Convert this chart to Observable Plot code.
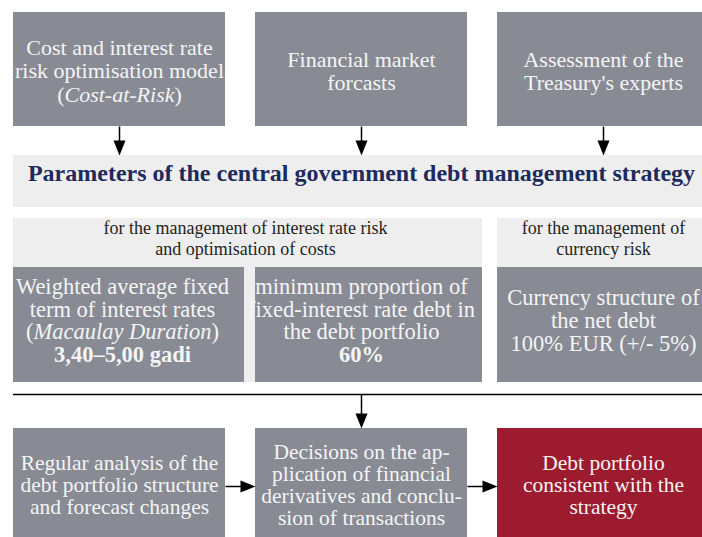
<!DOCTYPE html>
<html><head><meta charset="utf-8">
<script src="https://cdn.jsdelivr.net/npm/d3@7"></script>
<script src="https://cdn.jsdelivr.net/npm/@observablehq/plot@0.6"></script>
<style>html,body{margin:0;padding:0;background:#fff;} svg{display:block;}</style>
</head><body><div id="chart"></div>
<script>
// ---- content ----
const topBoxTexts = [
  ["Cost and interest rate", "risk optimisation model", "(_Cost-at-Risk_)"],
  ["Financial market", "forcasts"],
  ["Assessment of the", "Treasury's experts"]
];
const strategyTitle = "Parameters of the central government debt management strategy";
const groupLabels = [
  ["for the management of interest rate risk", "and optimisation of costs"],
  ["for the management of", "currency risk"]
];
const parameterTexts = [
  ["Weighted average fixed", "term of interest rates", "(_Macaulay Duration_)", "**3,40–5,00 gadi**"],
  ["minimum proportion of", "fixed-interest rate debt in", "the debt portfolio", "**60%**"],
  ["Currency structure of", "the net debt", "100% EUR (+/- 5%)"]
];
const processTexts = [
  ["Regular analysis of the", "debt portfolio structure", "and forecast changes"],
  ["Decisions on the ap-", "plication of financial", "derivatives and conclu-", "sion of transactions"],
  ["Debt portfolio", "consistent with the", "strategy"]
];

// ---- layout ----
const W = 702, H = 537;
const GREY = "#888b94", RED = "#9d1b2e", LIGHT = "#eeeeee", NAVY = "#1e2a5e", BOXTEXT = "#f4f4f4", DARK = "#231f20";
const colX = [13, 255, 497], colW = 212;
const colC = colX.map(x => x + colW / 2);
const topRow = [12, 126], band = [155, 207], groupRow = [218, 382], labelRow = [218, 267], paramRow = [267, 382];
const ruleY = 394, bottomRow = [428, 545];
const groupSpans = [[13, 482], [497, 709]];
const paramSpans = [[13, 244], [255, 482], [497, 709]];

const rects = [];
colX.forEach(x => rects.push({x1: x, x2: x + colW, y1: topRow[0], y2: topRow[1], fill: GREY}));
rects.push({x1: 13, x2: 720, y1: band[0], y2: band[1], fill: LIGHT});
groupSpans.forEach(([a, b]) => rects.push({x1: a, x2: b, y1: groupRow[0], y2: groupRow[1], fill: LIGHT}));
paramSpans.forEach(([a, b]) => rects.push({x1: a, x2: b, y1: paramRow[0], y2: paramRow[1], fill: GREY}));
colX.forEach((x, i) => rects.push({x1: x, x2: x + colW, y1: bottomRow[0], y2: bottomRow[1], fill: i === 2 ? RED : GREY}));

function lines(blocks, centers, mid, offset, spacing) {
  const out = [];
  blocks.forEach((ls, b) => {
    const n = ls.length;
    ls.forEach((t, i) => out.push({x: centers[b], y: mid + offset + (i - (n - 1) / 2) * spacing, text: t}));
  });
  return out;
}
const topLines = lines(topBoxTexts, colC, (topRow[0] + topRow[1]) / 2, 8.75, 23.5);
const labelLines = lines(groupLabels, [245, 603], (labelRow[0] + labelRow[1]) / 2, 1.25, 21.5);
const paramLines = lines(parameterTexts, [122, 361, 603], (paramRow[0] + paramRow[1]) / 2, 3, 22.6);
const processLines = lines(processTexts, colC, (bottomRow[0] + 537) / 2, 9, 22.3);

const downArrows = [
  {x: colC[0], y1: topRow[1], y2: band[0]},
  {x: colC[1], y1: topRow[1], y2: band[0]},
  {x: colC[2], y1: topRow[1], y2: band[0]},
  {x: colC[1], y1: ruleY, y2: bottomRow[0]}
];
const rightArrows = [
  {y: 486, x1: colX[0] + colW, x2: colX[1]},
  {y: 486, x1: colX[1] + colW, x2: colX[2]}
];
const HEAD = 15, HALF = 6;
const headDown = {draw(ctx) { ctx.moveTo(0, 0); ctx.lineTo(-HALF, -HEAD); ctx.lineTo(HALF, -HEAD); ctx.closePath(); }};
const headRight = {draw(ctx) { ctx.moveTo(0, 0); ctx.lineTo(-HEAD, -HALF); ctx.lineTo(-HEAD, HALF); ctx.closePath(); }};

const FONT = "Liberation Serif";
const textOpts = (fs, fill, extra = {}) => ({x: "x", y: "y", text: "text", fontSize: fs, fill, lineAnchor: "bottom", textAnchor: "middle", fontFamily: FONT, ...extra});

const chart = Plot.plot({
  width: W, height: H, margin: 0,
  x: {domain: [0, W], range: [0, W], axis: null},
  y: {domain: [0, H], range: [0, H], axis: null},
  color: {type: "identity"},
  style: {fontFamily: FONT, background: "white"},
  marks: [
    Plot.rect(rects, {x1: "x1", x2: "x2", y1: "y1", y2: "y2", fill: "fill"}),
    Plot.ruleY([ruleY], {x1: 13, x2: W, stroke: "black", strokeWidth: 1.6}),
    Plot.link(downArrows, {x1: "x", x2: "x", y1: "y1", y2: d => d.y2 - HEAD + 2, stroke: "black", strokeWidth: 1.5}),
    Plot.link(rightArrows, {x1: "x1", x2: d => d.x2 - HEAD + 2, y1: "y", y2: "y", stroke: "black", strokeWidth: 1.5}),
    Plot.dot(downArrows, {x: "x", y: "y2", symbol: headDown, r: 5, fill: "black", stroke: "none"}),
    Plot.dot(rightArrows, {x: "x2", y: "y", symbol: headRight, r: 5, fill: "black", stroke: "none"}),
    Plot.text(topLines, textOpts(22, BOXTEXT)),
    Plot.text([strategyTitle], {x: colC[1], y: 180, text: d => d, fontSize: 24, fontWeight: "bold", fill: NAVY, lineAnchor: "bottom", fontFamily: FONT}),
    Plot.text(labelLines, textOpts(18, DARK)),
    Plot.text(paramLines, textOpts(22.5, BOXTEXT)),
    Plot.text(processLines, textOpts(21.5, BOXTEXT))
  ]
});

// rich text: _italic_ and **bold** segments
chart.querySelectorAll("text").forEach(t => {
  const s = t.textContent;
  if (!/\*\*|_/.test(s)) return;
  const parts = s.split(/(\*\*[^*]+\*\*|_[^_]+_)/).filter(p => p.length);
  t.textContent = "";
  parts.forEach(p => {
    const ts = document.createElementNS("http://www.w3.org/2000/svg", "tspan");
    if (p.startsWith("**")) { ts.setAttribute("font-weight", "bold"); ts.textContent = p.slice(2, -2); }
    else if (p.startsWith("_")) { ts.setAttribute("font-style", "italic"); ts.textContent = p.slice(1, -1); }
    else ts.textContent = p;
    t.appendChild(ts);
  });
});

document.getElementById("chart").appendChild(chart);
</script>
</body></html>
